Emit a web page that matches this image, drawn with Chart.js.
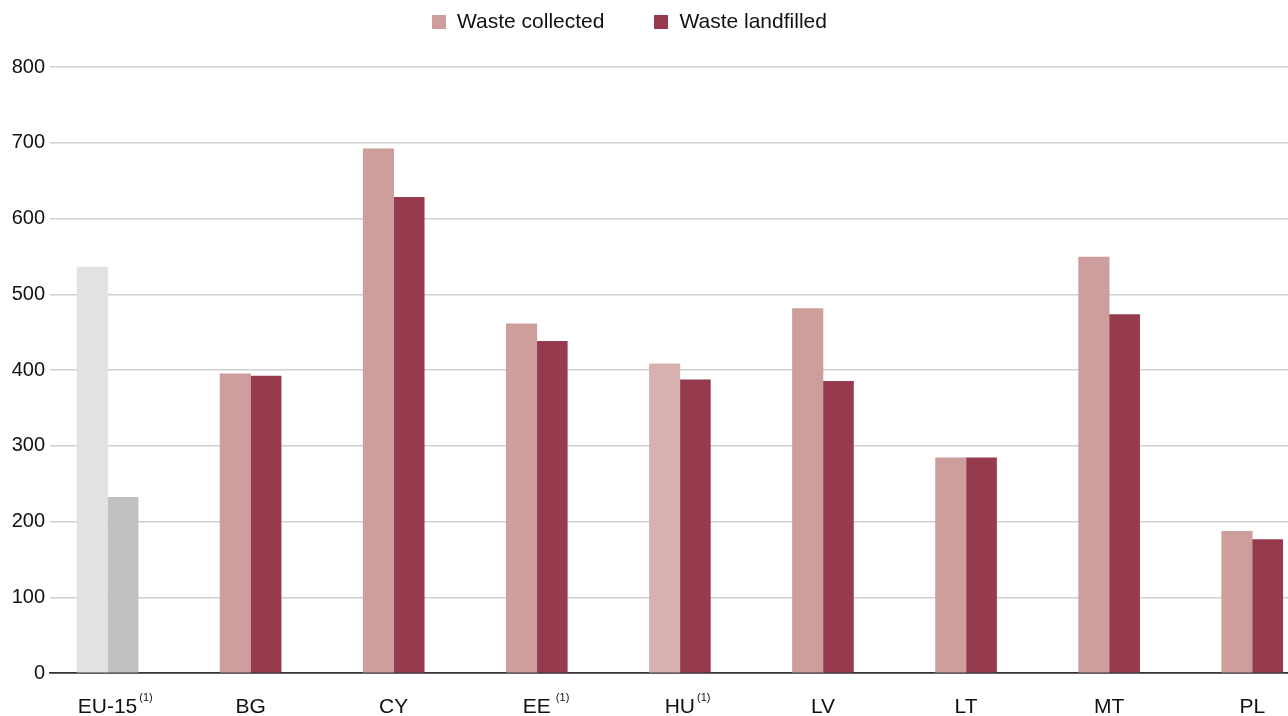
<!DOCTYPE html>
<html>
<head>
<meta charset="utf-8">
<script src="https://cdn.jsdelivr.net/npm/chart.js@4.4.1/dist/chart.umd.min.js"></script>
<style>
  html, body { margin: 0; padding: 0; background: #fff; overflow: hidden; }
  #wrap { position: relative; width: 1288px; height: 716px; }
  #legend { position: absolute; top: 9px; left: 432px; white-space: nowrap;
            font: 21px "Liberation Sans", Arial, sans-serif; line-height: 24px; color: #111; }
  .item { display: inline-block; margin-right: 50px; }
  .swatch { display: inline-block; width: 14px; height: 14px; margin-right: 11px; vertical-align: -1px; }
</style>
</head>
<body>
<div id="wrap">
  <div id="legend"></div>
  <canvas id="waste-chart" width="1288" height="716"></canvas>
</div>
<script>
const categories = ['EU-15', 'BG', 'CY', 'EE', 'HU', 'LV', 'LT', 'MT', 'PL'];
const notes = ['(1)', '', '', ' (1)', '(1)', '', '', '', ''];
const wasteCollected = [536, 395, 692, 461, 408, 481, 284, 549, 187];
const wasteLandfilled = [232, 392, 628, 438, 387, 385, 284, 473, 176];
const yTicks = [0, 100, 200, 300, 400, 500, 600, 700, 800];

const collectedColor = '#cd9e9c';
const landfilledColor = '#963a4d';
const collectedColors = ['#e2e2e2', collectedColor, collectedColor, collectedColor, '#d9b0b0',
    collectedColor, collectedColor, collectedColor, collectedColor];
const landfilledColors = ['#c0c0c0', landfilledColor, landfilledColor, landfilledColor, landfilledColor,
    landfilledColor, landfilledColor, landfilledColor, landfilledColor];

const FONT = '"Liberation Sans", Arial, sans-serif';
const LABEL_SIZE = 21;

function toPoints(values) {
    return values.map((v, i) => ({ x: i, y: v }));
}

// legend above the plot
const legend = document.getElementById('legend');
[['Waste collected', collectedColor], ['Waste landfilled', landfilledColor]].forEach(([text, color]) => {
    let item = document.createElement('span');
    item.className = 'item';
    item.innerHTML = `<span class="swatch" style="background:${color}"></span>${text}`;
    legend.appendChild(item);
});

// "(1)" footnote markers next to some country codes
const footnotes = {
    id: 'footnotes',
    afterDraw(chart) {
        const ctx = chart.ctx;
        const xScale = chart.scales.x;
        ctx.save();
        ctx.fillStyle = '#111';
        ctx.textBaseline = 'top';
        notes.forEach((note, i) => {
            if (!note) return;
            ctx.font = LABEL_SIZE + 'px ' + FONT;
            let half = ctx.measureText(categories[i]).width / 2;
            ctx.font = '11px ' + FONT;
            ctx.fillText(note, xScale.getPixelForValue(i) + half + 2, chart.chartArea.bottom + 19);
        });
        ctx.restore();
    }
};

const ctx = document.getElementById('waste-chart');
const chart = new Chart(ctx, {
    type: 'bar',
    data: {
        datasets: [
            { label: 'Waste collected', data: toPoints(wasteCollected), backgroundColor: collectedColors },
            { label: 'Waste landfilled', data: toPoints(wasteLandfilled), backgroundColor: landfilledColors }
        ]
    },
    options: {
        responsive: false,
        animation: false,
        barThickness: 30.5,
        layout: { padding: { top: 67, left: 0, right: 0, bottom: 0 } },
        plugins: {
            legend: { display: false },
            tooltip: { enabled: false }
        },
        scales: {
            x: {
                type: 'linear',
                offset: false,
                min: -0.402,
                max: 8.25,
                grid: { display: false },
                border: { color: '#333', width: 1.5 },
                afterBuildTicks: scale => {
                    scale.ticks = categories.map((c, i) => ({ value: i }));
                },
                afterFit: scale => { scale.height = 43; },
                ticks: {
                    autoSkip: false,
                    maxRotation: 0,
                    padding: 14,
                    color: '#111',
                    font: { family: FONT, size: LABEL_SIZE },
                    callback: value => categories[value]
                }
            },
            y: {
                min: 0,
                max: 800,
                afterBuildTicks: scale => {
                    scale.ticks = yTicks.map(v => ({ value: v }));
                },
                afterFit: scale => { scale.width = 50; },
                border: { display: false },
                grid: {
                    drawTicks: false,
                    lineWidth: 1.5,
                    color: c => c.tick.value === 0 ? '#333' : '#cfcfcf'
                },
                ticks: {
                    padding: 5,
                    color: '#111',
                    font: { family: FONT, size: 20 }
                }
            }
        }
    },
    plugins: [footnotes]
});
</script>
</body>
</html>
